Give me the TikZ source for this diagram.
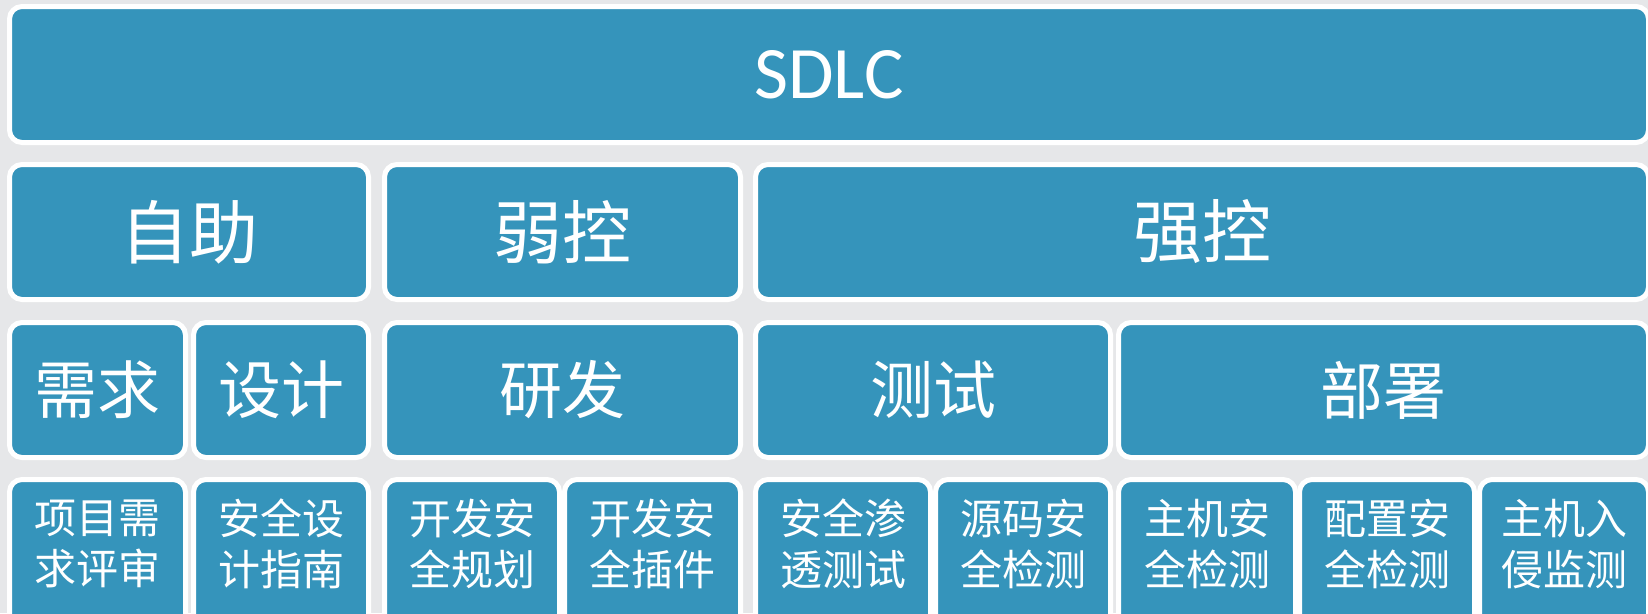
\documentclass[tikz,border=0pt]{standalone}
\usepackage{fontspec}
\newfontfamily\cjk{Noto Sans CJK SC}
\newfontfamily\lat{Carlito}
\definecolor{bgc}{HTML}{E6E7E9}
\definecolor{boxc}{HTML}{3594BB}
\tikzset{
  box/.style={fill=boxc, draw=white, line width=5pt, rounded corners=12.5pt,
    inner sep=0pt, outer sep=0pt, text=white},
  tsdlc/.style={text=white, font=\lat\fontsize{74}{80}\selectfont},
  tbig/.style={text=white, font=\cjk\fontsize{69}{74}\selectfont},
  tmid/.style={text=white, font=\cjk\fontsize{63}{68}\selectfont},
  tsmall/.style={text=white, align=center, inner sep=0pt, font=\cjk\fontsize{42}{51}\selectfont},
}
% name, x1, y1, x2, y2, text, text style
\newcommand{\bx}[7]{%
  \node[box, #7, minimum width={(#4-#2+5)*1pt}, minimum height={(#5-#3+5)*1pt}]
    (#1) at ({(#2+#4)/2},{(#3+#5)/2}) {#6};}
% name, x1, x2, text
\newcommand{\sbx}[4]{%
  \node[box, minimum width={(#3-#2+5)*1pt}, minimum height={(630-482+5)*1pt}]
    (#1) at ({(#2+#3)/2},{(482+630)/2}) {};
  \node[tsmall] (#1t) at ({(#2+#3)/2},544) {#4};}
\begin{document}
\begin{tikzpicture}[x=1pt,y=-1pt]
\fill[bgc] (0,0) rectangle (1648,613);
\useasboundingbox (0,0) rectangle (1648,613);
\clip (0,0) rectangle (1648,613);
% row 1
\bx{sdlc}{12}{9}{1646}{140}{SDLC}{tsdlc}
% row 2
\bx{zizhu}{12}{167}{366}{297}{自助}{tbig}
\bx{ruokong}{387}{167}{738}{297}{弱控}{tbig}
\bx{qiangkong}{758}{167}{1646}{297}{强控}{tbig}
% row 3
\bx{xuqiu}{12}{325}{183}{455}{需求}{tmid}
\bx{sheji}{196}{325}{366}{455}{设计}{tmid}
\bx{yanfa}{387}{325}{738}{455}{研发}{tmid}
\bx{ceshi}{758}{325}{1108}{455}{测试}{tmid}
\bx{bushu}{1121}{325}{1646}{455}{部署}{tmid}
% row 4
\sbx{b1}{12}{183}{项目需\\求评审}
\sbx{b2}{196}{366}{安全设\\计指南}
\sbx{b3}{387}{557}{开发安\\全规划}
\sbx{b4}{567}{738}{开发安\\全插件}
\sbx{b5}{758}{928}{安全渗\\透测试}
\sbx{b6}{938}{1108}{源码安\\全检测}
\sbx{b7}{1121}{1293}{主机安\\全检测}
\sbx{b8}{1302}{1472}{配置安\\全检测}
\sbx{b9}{1482}{1646}{主机入\\侵监测}
\end{tikzpicture}
\end{document}
